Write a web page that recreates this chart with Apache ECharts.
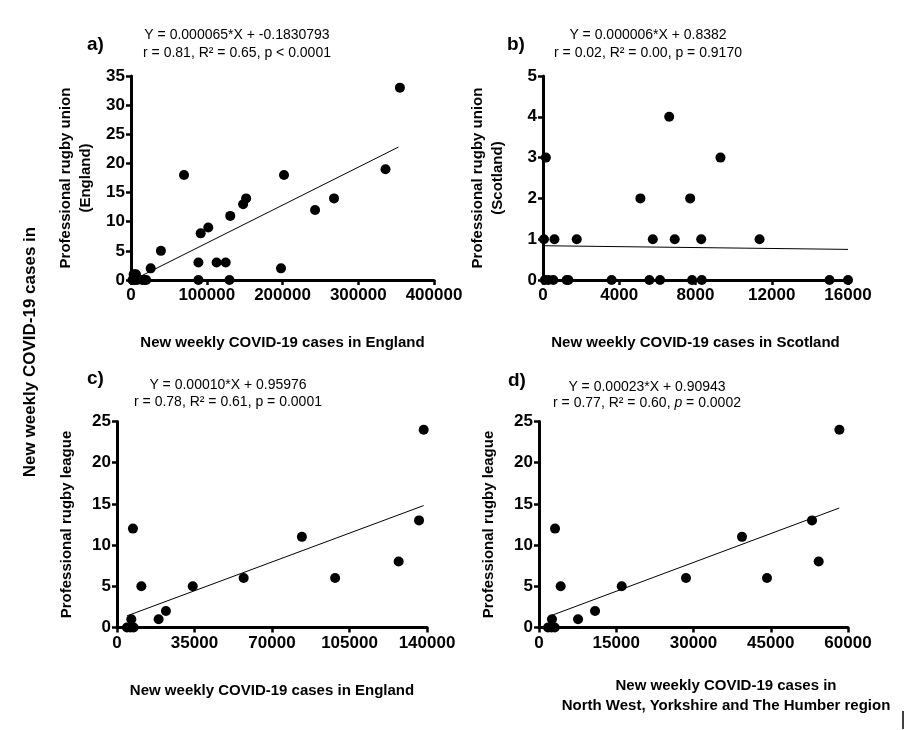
<!DOCTYPE html>
<html>
<head>
<meta charset="utf-8">
<script src="https://cdn.jsdelivr.net/npm/echarts@6/dist/echarts.min.js"></script>
<style>
  html, body { margin: 0; padding: 0; background: #fff; }
  #chart { width: 918px; height: 730px; }
</style>
</head>
<body>
<div id="chart"></div>
<script>
// a) rugby union England vs weekly cases England
const unionEngland = [
  [2000, 0], [3500, 1], [5000, 0], [6500, 1], [8000, 0], [15000, 0], [18000, 0], [20000, 0],
  [26000, 2], [39500, 5], [70000, 18], [89000, 3], [89000, 0], [92000, 8], [102000, 9],
  [113000, 3], [125000, 3], [130000, 0], [131000, 11], [148000, 13], [152000, 14],
  [198000, 2], [202000, 18], [243000, 12], [268000, 14], [336000, 19], [355000, 33]
];
// b) rugby union Scotland vs weekly cases Scotland
const unionScotland = [
  [100, 0], [50, 1], [150, 3], [280, 0], [540, 0], [600, 1], [1240, 0], [1330, 0], [1770, 1],
  [3600, 0], [5110, 2], [5580, 0], [5760, 1], [6140, 0], [6620, 4], [6910, 1], [7720, 2],
  [7820, 0], [8300, 1], [8330, 0], [9310, 3], [11360, 1], [15030, 0], [16000, 0]
];
// c) rugby league vs weekly cases England
const leagueEngland = [
  [4500, 0], [6000, 0], [7500, 0], [6460, 1], [7200, 12], [11000, 5], [18800, 1], [22100, 2],
  [34200, 5], [57200, 6], [83500, 11], [98500, 6], [127200, 8], [136400, 13], [138500, 24]
];
// d) rugby league vs weekly cases NW, Yorkshire and The Humber
const leagueNorth = [
  [1750, 0], [2400, 0], [3050, 0], [2520, 1], [3110, 12], [4210, 5], [7580, 1], [10880, 2],
  [16060, 5], [28540, 6], [39420, 11], [44270, 6], [53010, 13], [54310, 8], [58330, 24]
];

// fitted lines, endpoints as drawn
const trendA = [[4000, 0.08], [353000, 22.8]];
const trendB = [[0, 0.84], [16000, 0.75]];
const trendC = [[4500, 1.41], [138500, 14.8]];
const trendD = [[2500, 1.48], [58300, 14.5]];

const xMax = [400000, 16000, 140000, 60000];
const xStep = [100000, 4000, 35000, 15000];
const yMax = [35, 5, 25, 25];
const yStep = [5, 1, 5, 5];

const xNames = [
  'New weekly COVID-19 cases in England',
  'New weekly COVID-19 cases in Scotland',
  'New weekly COVID-19 cases in England',
  ''
];
const yNames = [
  'Professional rugby union\n(England)',
  'Professional rugby union\n(Scotland)',
  'Professional rugby league',
  'Professional rugby league'
];

const FONT = 'Liberation Sans, Arial, sans-serif';

const grids = [
  { left: 131, top: 76, width: 303, height: 204 },
  { left: 543, top: 76, width: 305, height: 204 },
  { left: 117, top: 421.5, width: 310, height: 206 },
  { left: 539, top: 421.5, width: 309, height: 206 }
];

function axisCommon() {
  return {
    axisLine: { show: true, onZero: false, lineStyle: { color: '#000', width: 3 } },
    axisTick: { show: true, length: 5, lineStyle: { color: '#000', width: 2.5 } },
    axisLabel: {
      color: '#000', fontFamily: FONT, fontWeight: 'bold', fontSize: 17,
      formatter: v => String(v)
    },
    splitLine: { show: false },
    nameTextStyle: { color: '#000', fontFamily: FONT, fontWeight: 'bold', fontSize: 15, lineHeight: 20 }
  };
}

const xAxes = grids.map((g, i) => Object.assign(axisCommon(), {
  type: 'value', gridIndex: i, min: 0, max: xMax[i], interval: xStep[i],
  name: xNames[i], nameLocation: 'middle', nameGap: 53
}));
xAxes.forEach(a => { a.axisLabel.margin = 7; });

const yAxes = grids.map((g, i) => Object.assign(axisCommon(), {
  type: 'value', gridIndex: i, min: 0, max: yMax[i], interval: yStep[i],
  name: yNames[i], nameLocation: 'middle', nameRotate: 90,
  nameGap: i < 2 ? 35 : 40
}));
yAxes.forEach(a => { a.axisLabel.margin = 6; });

const pointSets = [unionEngland, unionScotland, leagueEngland, leagueNorth];
const trends = [trendA, trendB, trendC, trendD];

const series = [];
pointSets.forEach((pts, i) => {
  series.push({
    type: 'line', xAxisIndex: i, yAxisIndex: i, data: trends[i],
    showSymbol: false, symbol: 'none', silent: true,
    lineStyle: { color: '#000', width: 1 }, z: 3
  });
  series.push({
    type: 'scatter', xAxisIndex: i, yAxisIndex: i, data: pts,
    symbol: 'circle', symbolSize: 10, clip: false,
    itemStyle: { color: '#000', opacity: 1 }, z: 4
  });
});

function eq(cx, y1, y2, line1, line2) {
  return [
    { type: 'text', x: cx, y: y1, style: { text: line1, fill: '#000', font: '14px ' + FONT, align: 'center', verticalAlign: 'middle' } },
    { type: 'text', x: cx, y: y2, style: {
      text: line2, fill: '#000', align: 'center', verticalAlign: 'middle',
      font: '14px ' + FONT,
      rich: {
        n: { fontSize: 14, fontFamily: FONT, fill: '#000' },
        i: { fontSize: 14, fontFamily: FONT, fontStyle: 'italic', fill: '#000' }
      }
    } }
  ];
}

function panelLabel(x, y, t) {
  return { type: 'text', x: x, y: y, style: { text: t, fill: '#000', font: 'bold 19px ' + FONT, verticalAlign: 'middle' } };
}

const graphics = [].concat(
  panelLabel(87, 45, 'a)'),
  panelLabel(507, 45, 'b)'),
  panelLabel(87, 379, 'c)'),
  panelLabel(508, 381, 'd)'),
  eq(237, 35, 53, 'Y = 0.000065*X + -0.1830793', 'r = 0.81, R² = 0.65, p < 0.0001'),
  eq(648, 35, 53, 'Y = 0.000006*X + 0.8382', 'r = 0.02, R² = 0.00, p = 0.9170'),
  eq(228, 385, 402, 'Y = 0.00010*X + 0.95976', 'r = 0.78, R² = 0.61, p = 0.0001'),
  eq(647, 387, 403, 'Y = 0.00023*X + 0.90943', '{n|r = 0.77, R² = 0.60, }{i|p}{n| = 0.0002}'),
  [
    { type: 'text', x: 726, y: 686, style: { text: 'New weekly COVID-19 cases in', fill: '#000', font: 'bold 15px ' + FONT, align: 'center', verticalAlign: 'middle' } },
    { type: 'text', x: 726, y: 706, style: { text: 'North West, Yorkshire and The Humber region', fill: '#000', font: 'bold 15px ' + FONT, align: 'center', verticalAlign: 'middle' } },
    { type: 'text', x: 30, y: 352, rotation: Math.PI / 2, style: { text: 'New weekly COVID-19 cases in', fill: '#000', font: 'bold 17px ' + FONT, align: 'center', verticalAlign: 'middle' } },
    { type: 'line', shape: { x1: 903, y1: 711, x2: 903, y2: 729 }, style: { stroke: '#000', lineWidth: 1.5 } }
  ]
);

const chart = echarts.init(document.getElementById('chart'), null, { renderer: 'canvas' });
chart.setOption({
  backgroundColor: '#fff',
  animation: false,
  grid: grids,
  xAxis: xAxes,
  yAxis: yAxes,
  series: series,
  graphic: graphics
});
</script>
</body>
</html>
